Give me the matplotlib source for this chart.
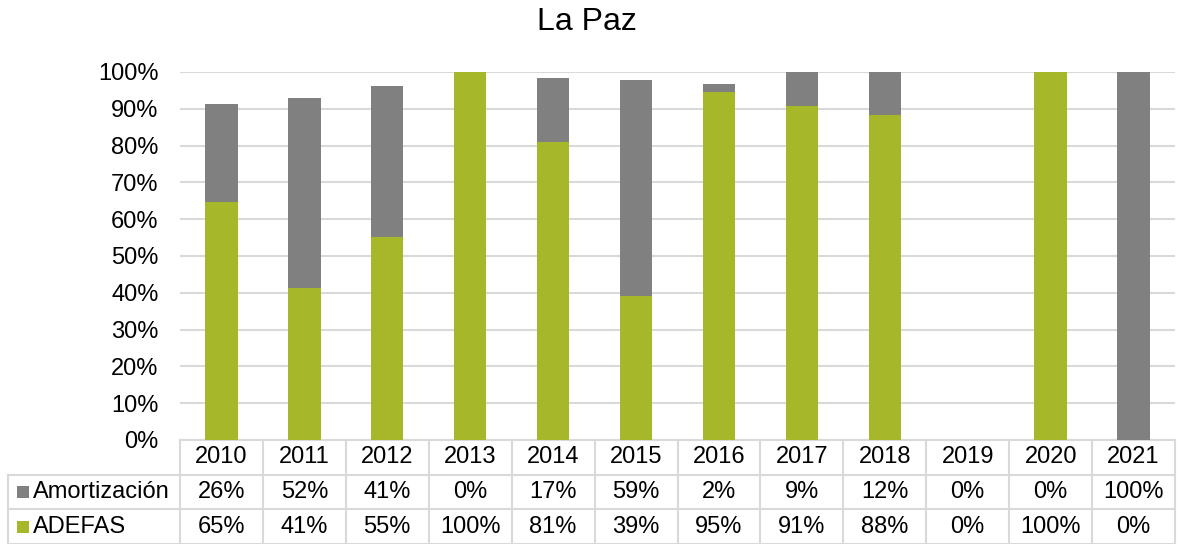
import matplotlib as mpl

mpl.use("Agg")

import matplotlib.pyplot as plt
from matplotlib.patches import Rectangle

years = ["2010", "2011", "2012", "2013", "2014", "2015", "2016",
         "2017", "2018", "2019", "2020", "2021"]
# shares (table shows them rounded)
adefas = [64.7, 41.4, 55.2, 100.0, 81.0, 39.2, 94.6, 90.8, 88.4, 0.0, 100.0, 0.0]
amortizacion = [26.5, 51.6, 41.0, 0.0, 17.4, 58.6, 2.1, 9.2, 11.6, 0.0, 0.0, 100.0]

GREEN = "#a6b82a"
GRAY = "#808080"
GRID = "#d9d9d9"
FS = 17

plt.rcParams["font.family"] = ["Liberation Sans", "DejaVu Sans"]

W, H = 1180, 544
fig = plt.figure(figsize=(W / 100, H / 100), dpi=100, facecolor="white")

# plot area in pixels
x0, x1 = 180, 1175
y_top, y_zero = 72, 440
ax = fig.add_axes([x0 / W, 1 - y_zero / H, (x1 - x0) / W, (y_zero - y_top) / H])

idx = range(len(years))
ax.bar(idx, adefas, width=0.39, color=GREEN, zorder=3)
ax.bar(idx, amortizacion, width=0.39, bottom=adefas, color=GRAY, zorder=3)

ax.set_xlim(-0.5, len(years) - 0.5)
ax.set_ylim(0, 100)
ax.set_yticks(range(0, 101, 10))
ax.set_yticklabels([f"{v}%" for v in range(0, 101, 10)])
ax.tick_params(axis="y", length=0, pad=15.5, labelsize=FS)
ax.set_xticks([])
ax.yaxis.grid(True, color=GRID, linewidth=1.5, zorder=0)
for s in ax.spines.values():
    s.set_visible(False)

fig.text(0.497, 1 - 22 / H, "La Paz", ha="center", va="center", fontsize=23)

# data table below the plot
ax_h = y_zero - y_top
ncol = len(years)
row_h = 34.7 / ax_h
label_left = (8 - x0) / (x1 - x0)


def hline(y, xa, xb):
    ax.plot([xa, xb], [y, y], transform=ax.transAxes, color=GRID,
            linewidth=1.5, clip_on=False, zorder=1)


def vline(x, ya, yb):
    ax.plot([x, x], [ya, yb], transform=ax.transAxes, color=GRID,
            linewidth=1.5, clip_on=False, zorder=1)


hline(0, 0, 1)
hline(-row_h, label_left, 1)
hline(-2 * row_h, label_left, 1)
hline(-3 * row_h, label_left, 1)
for i in range(ncol + 1):
    vline(i / ncol, 0, -3 * row_h)
vline(label_left, -row_h, -3 * row_h)

for i, yr in enumerate(years):
    xc = (i + 0.5) / ncol
    ax.text(xc, -0.5 * row_h, yr, transform=ax.transAxes,
            ha="center", va="center", fontsize=FS)
    ax.text(xc, -1.5 * row_h, f"{round(amortizacion[i])}%", transform=ax.transAxes,
            ha="center", va="center", fontsize=FS)
    ax.text(xc, -2.5 * row_h, f"{round(adefas[i])}%", transform=ax.transAxes,
            ha="center", va="center", fontsize=FS)

sq_w = 12 / (x1 - x0)
sq_h = 12 / ax_h
for r, (name, col) in enumerate([("Amortización", GRAY), ("ADEFAS", GREEN)]):
    yc = -(1.5 + r) * row_h
    sx = (17 - x0) / (x1 - x0)
    ax.add_patch(Rectangle((sx, yc - sq_h / 2), sq_w, sq_h, transform=ax.transAxes,
                           facecolor=col, edgecolor="none", clip_on=False))
    ax.text((33 - x0) / (x1 - x0), yc, name, transform=ax.transAxes,
            ha="left", va="center", fontsize=FS)

fig.savefig("out.png", dpi=100)
